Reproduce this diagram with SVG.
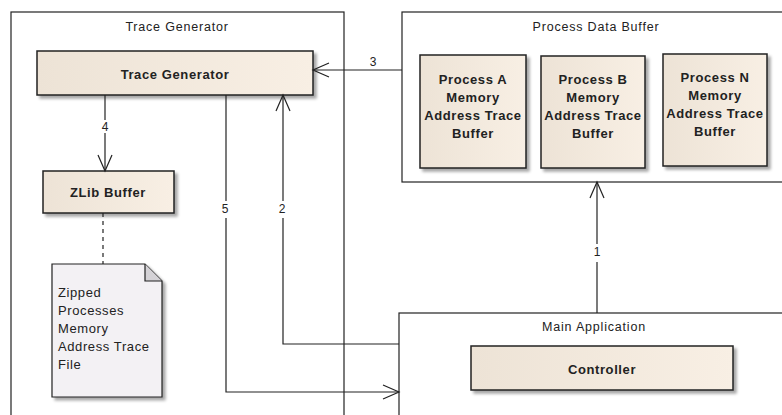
<svg xmlns="http://www.w3.org/2000/svg" width="782" height="415" viewBox="0 0 782 415">
  <defs>
    <linearGradient id="classFill" x1="0" y1="0" x2="1" y2="0">
      <stop offset="0" stop-color="#ede3d6"/>
      <stop offset="1" stop-color="#f8efe4"/>
    </linearGradient>
    <filter id="shadow" x="-10%" y="-10%" width="130%" height="130%">
      <feGaussianBlur in="SourceAlpha" stdDeviation="1.5"/>
      <feOffset dx="3" dy="3" result="b"/>
      <feComponentTransfer><feFuncA type="linear" slope="0.35"/></feComponentTransfer>
      <feMerge><feMergeNode/><feMergeNode in="SourceGraphic"/></feMerge>
    </filter>
    <marker id="open" viewBox="0 0 20 20" refX="18" refY="10" markerWidth="20" markerHeight="20" markerUnits="userSpaceOnUse" orient="auto">
      <path d="M2,3 L18,10 L2,17" fill="none" stroke="#222" stroke-width="1.2"/>
    </marker>
  </defs>
  <style>
    .pkg { fill: #ffffff; stroke: #222; stroke-width: 1.2; }
    .cls { fill: url(#classFill); stroke: #222; stroke-width: 1.5; filter: url(#shadow); }
    .note { fill: #f3f1f4; stroke: #222; stroke-width: 1.2; filter: url(#shadow); }
    .pkgLabel { font-family: "Liberation Sans", Arial, sans-serif; font-size: 12.5px; letter-spacing: 0.8px; fill: #222; text-anchor: middle; }
    .clsLabel { font-family: "Liberation Sans", Arial, sans-serif; font-size: 13px; letter-spacing: 0.6px; font-weight: bold; fill: #222; text-anchor: middle; }
    .noteText { font-family: "Liberation Sans", Arial, sans-serif; font-size: 13px; letter-spacing: 0.6px; fill: #222; }
    .num { font-family: "Liberation Sans", Arial, sans-serif; font-size: 12px; fill: #222; text-anchor: middle; }
    .edge { fill: none; stroke: #222; stroke-width: 1.2; }
  </style>
  <rect width="782" height="415" fill="#ffffff"/>

  <!-- Trace Generator package -->
  <g id="pkg-trace-generator">
    <rect class="pkg" x="11" y="12" width="333" height="420"/>
    <text class="pkgLabel" x="177" y="31">Trace Generator</text>
  </g>

  <!-- Process Data Buffer package -->
  <g id="pkg-process-data-buffer">
    <rect class="pkg" x="402" y="12" width="400" height="170"/>
    <text class="pkgLabel" x="596" y="31">Process Data Buffer</text>
  </g>

  <!-- Main Application package -->
  <g id="pkg-main-application">
    <rect class="pkg" x="399" y="313" width="400" height="120"/>
    <text class="pkgLabel" x="594" y="331">Main Application</text>
  </g>

  <g id="trace-generator">
    <rect class="cls" x="37" y="51" width="276" height="44"/>
    <text class="clsLabel" x="175" y="79">Trace Generator</text>
  </g>

  <g id="zlib-buffer">
    <rect class="cls" x="43" y="171" width="131" height="42"/>
    <text class="clsLabel" x="108" y="197">ZLib Buffer</text>
  </g>

  <g id="zipped-file-note">
    <path class="note" d="M52,264 H145 L162,281 V397 H52 Z"/>
    <path d="M145,264 V281 H162" fill="#d4d2d6" stroke="#222" stroke-width="1.2"/>
    <text class="noteText" x="58" y="297">Zipped</text>
    <text class="noteText" x="58" y="315">Processes</text>
    <text class="noteText" x="58" y="333">Memory</text>
    <text class="noteText" x="58" y="351">Address Trace</text>
    <text class="noteText" x="58" y="369">File</text>
  </g>

  <g id="process-a-buffer">
    <rect class="cls" x="420" y="55" width="106" height="113"/>
    <text class="clsLabel" x="473" y="84">Process A</text>
    <text class="clsLabel" x="473" y="102">Memory</text>
    <text class="clsLabel" x="473" y="120">Address Trace</text>
    <text class="clsLabel" x="473" y="138">Buffer</text>
  </g>

  <g id="process-b-buffer">
    <rect class="cls" x="541" y="56" width="104" height="112"/>
    <text class="clsLabel" x="593" y="84">Process B</text>
    <text class="clsLabel" x="593" y="102">Memory</text>
    <text class="clsLabel" x="593" y="120">Address Trace</text>
    <text class="clsLabel" x="593" y="138">Buffer</text>
  </g>

  <g id="process-n-buffer">
    <rect class="cls" x="663" y="54" width="104" height="112"/>
    <text class="clsLabel" x="715" y="82">Process N</text>
    <text class="clsLabel" x="715" y="100">Memory</text>
    <text class="clsLabel" x="715" y="118">Address Trace</text>
    <text class="clsLabel" x="715" y="136">Buffer</text>
  </g>

  <g id="controller">
    <rect class="cls" x="471" y="346" width="262" height="44"/>
    <text class="clsLabel" x="602" y="374">Controller</text>
  </g>

  <!-- connectors -->
  <g id="connectors">
    <!-- 1: controller package to process data buffer -->
    <path class="edge" d="M597,313 V262" />
    <path class="edge" d="M597,244 V182" marker-end="url(#open)"/>
    <text class="num" x="597" y="256">1</text>

    <!-- 2: main application to trace generator -->
    <path class="edge" d="M399,344 H283 V218"/>
    <path class="edge" d="M283,201 V95" marker-end="url(#open)"/>
    <text class="num" x="282" y="213">2</text>

    <!-- 3: process data buffer to trace generator -->
    <path class="edge" d="M402,70 H313" marker-end="url(#open)"/>
    <text class="num" x="373" y="66">3</text>

    <!-- 4: trace generator to zlib buffer -->
    <path class="edge" d="M105,95 V120"/>
    <path class="edge" d="M105,133 V171" marker-end="url(#open)"/>
    <text class="num" x="105" y="131">4</text>

    <!-- 5: trace generator to main application -->
    <path class="edge" d="M226,95 V201"/>
    <path class="edge" d="M226,218 V392 H399" marker-end="url(#open)"/>
    <text class="num" x="225" y="213">5</text>

    <!-- note link -->
    <path class="edge" d="M103,213 V264" stroke-dasharray="4,4"/>
  </g>
</svg>
